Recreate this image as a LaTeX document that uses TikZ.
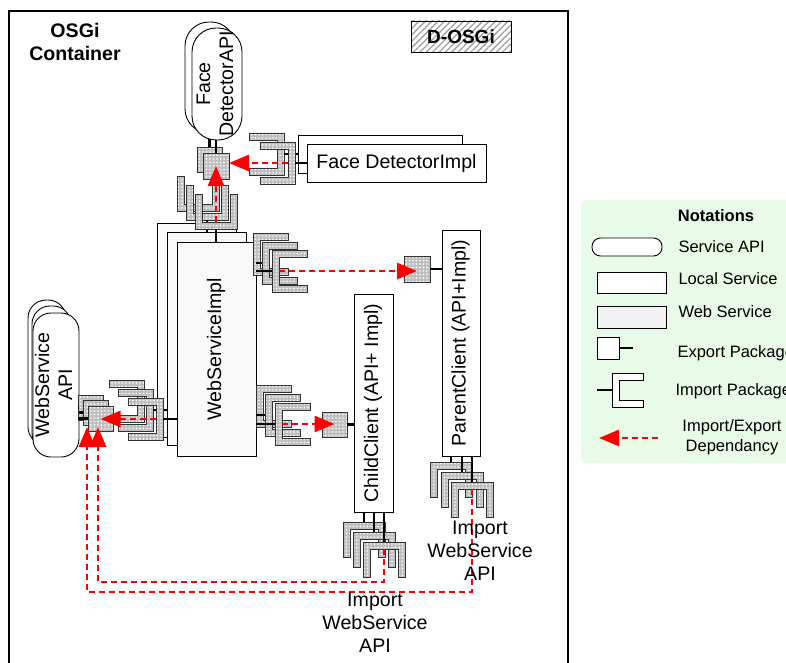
\documentclass[tikz,border=0pt]{standalone}
\usepackage{fontspec}
\setmainfont{Liberation Sans}
\usepackage{graphicx}
\usetikzlibrary{arrows.meta,patterns.meta}

\definecolor{notebg}{RGB}{232,250,232}
\newcommand{\vlab}[1]{\rotatebox{90}{\begin{tabular}{@{}c@{}}#1\end{tabular}}}

\tikzset{
  big/.style={font=\fontsize{19.6}{23}\selectfont},
  bigb/.style={font=\bfseries\fontsize{19.6}{23}\selectfont},
  small/.style={font=\fontsize{16.5}{20}\selectfont},
  smallb/.style={font=\bfseries\fontsize{16.5}{20}\selectfont},
  box/.style={draw, line width=0.9pt, fill=white, inner sep=0pt, outer sep=0pt, big},
  wsbox/.style={box, fill=gray!5},
  api/.style={box, rounded corners=#1},
  webpkg/.style={draw=black!80, line width=0.6pt, preaction={fill=gray!50},
    pattern={Dots[distance=3.5pt,radius=0.9pt]}, pattern color=white},
  sq/.style={webpkg, minimum size=#1, inner sep=0pt, outer sep=0pt},
  stub/.style={line width=2.8pt},
  dep/.style={red, line width=2.8pt, dash pattern=on 6pt off 4pt,
    -{Triangle[length=20pt,width=16pt]}},
  dosgi/.style={draw, line width=0.9pt, minimum width=100pt, minimum height=31pt,
    pattern={Lines[angle=45,distance=4.5pt,line width=1.3pt]}, pattern color=gray!75,
    font=\bfseries\fontsize{19}{22}\selectfont},
  % import packages, placed by their top left corner
  impR/.pic={
    \path[webpkg] (0,0) -- (35,0) -- (35,7) -- (7,7) -- (7,35) -- (35,35) -- (35,42) -- (0,42) -- cycle;
    \coordinate (-bar) at (0,21);
    \coordinate (-in) at (7,21);
  },
  impL/.pic={
    \path[webpkg] (0,0) -- (35,0) -- (35,42) -- (0,42) -- (0,35) -- (28,35) -- (28,7) -- (0,7) -- cycle;
    \coordinate (-bar) at (35,21);
    \coordinate (-in) at (28,21);
  },
  impU/.pic={
    \path[webpkg] (0,0) -- (7,0) -- (7,28) -- (35,28) -- (35,0) -- (42,0) -- (42,35) -- (0,35) -- cycle;
    \coordinate (-bar) at (21,35);
    \coordinate (-in) at (21,28);
  },
  impD/.pic={
    \path[webpkg] (0,0) -- (42,0) -- (42,35) -- (35,35) -- (35,7) -- (7,7) -- (7,35) -- (0,35) -- cycle;
    \coordinate (-bar) at (21,0);
    \coordinate (-in) at (21,7);
  }
}

\begin{document}
\begin{tikzpicture}[x=1pt,y=-1pt]
\useasboundingbox (0,0) rectangle (786,663);

% container
\draw[line width=1.6pt] (9,680) -- (9,11) -- (568,11) -- (568,680);
\node[bigb, align=center] (osgi) at (75,42) {OSGi\\Container};
\node[dosgi] (dosgi) at (461,36.5) {D-OSGi};

% face detector api
\node[sq=25pt] (fsq1) at (209.5,159.5) {};
\node[sq=26pt] (fsq2) at (216,166) {};
\node[api=24pt, minimum width=50pt, minimum height=111pt] (fapib) at (210,77.5) {};
\draw[stub] (fsq1.north) -- (fsq1.north |- fapib.south);
\node[api=24pt, minimum width=50pt, minimum height=112pt] (fapi) at (217,84) {\vlab{Face\\DetectorAPI}};
\draw[stub] (fsq2.north) -- (fsq2.north |- fapi.south);

% face detector impl
\node[box, minimum width=164pt, minimum height=38pt] (fdib) at (380,154) {};
\node[box, minimum width=179pt, minimum height=38pt] (fdi) at (396.5,163) {Face DetectorImpl};
\pic (fi1) at (249,133) {impL};
\draw[stub] (fi1-bar) -- (fi1-bar -| fdib.west);
\pic (fi2) at (260,142) {impL};
\draw[stub] (fi2-bar) -- (fi2-bar -| fdi.west);

% web service impl
\node[wsbox, minimum width=79pt, minimum height=214pt] (wsib1) at (196.5,330) {};
\node[wsbox, minimum width=79pt, minimum height=213pt] (wsib2) at (206.5,338.5) {};
\node[wsbox, minimum width=79pt, minimum height=214pt] (wsi) at (216.5,349) {\vlab{WebServiceImpl}};

\pic (wt1) at (177,176) {impU};
\draw[stub] (wt1-bar) -- (wt1-bar |- wsib1.north);
\pic (wt2) at (186,185) {impU};
\draw[stub] (wt2-bar) -- (wt2-bar |- wsib2.north);
\pic (wt3) at (195,194) {impU};
\draw[stub] (wt3-bar) -- (wt3-bar |- wsi.north);

\pic (wr1) at (253,233) {impR};
\pic (wr2) at (262,242) {impR};
\draw[stub] (wr2-bar) -- (wr2-bar -| wsi.east);
\pic (wr3) at (272,250) {impR};
\draw[stub] (wr3-bar) -- (wr3-bar -| wsi.east);

\pic (wd1) at (256,385) {impR};
\pic (wd2) at (265,394) {impR};
\draw[stub] (wd2-bar) -- (wd2-bar -| wsi.east);
\pic (wd3) at (275,403) {impR};
\draw[stub] (wd3-bar) -- (wd3-bar -| wsi.east);

\pic (wl1) at (109,380) {impL};
\draw[stub] (wl1-bar) -- (wl1-bar -| wsib1.west);
\pic (wl2) at (118,389) {impL};
\draw[stub] (wl2-bar) -- (wl2-bar -| wsib2.west);
\pic (wl3) at (128,398) {impL};
\draw[stub] (wl3-bar) -- (wl3-bar -| wsi.west);

% web service api
\node[api=18pt, minimum width=38pt, minimum height=145pt] (wapib1) at (47,372.5) {};
\node[api=18pt, minimum width=39pt, minimum height=145pt] (wapib2) at (51.5,378.5) {};
\node[api=18pt, minimum width=38pt, minimum height=144pt] (wapi) at (56,385) {\vlab{WebService\\API}};
\node[sq=25pt] (wsq1) at (90.5,407.5) {};
\draw[stub] (wsq1.west) -- (wsq1.west -| wapi.east);
\node[sq=25pt] (wsq2) at (95.5,412.5) {};
\draw[stub] (wsq2.west) -- (wsq2.west -| wapi.east);
\node[sq=25pt] (wsq3) at (100.5,418.5) {};
\draw[stub] (wsq3.west) -- (wsq3.west -| wapi.east);

% parent client
\node[box, minimum width=38pt, minimum height=226pt] (parent) at (461,343) {\vlab{ParentClient (API+Impl)}};
\node[sq=26pt] (psq) at (417,269) {};
\draw[stub] (psq.east) -- (psq.east -| parent.west);
\pic (pb1) at (430,462) {impD};
\draw[stub] (pb1-bar) -- (pb1-bar |- parent.south);
\pic (pb2) at (441,472) {impD};
\draw[stub] (pb2-bar) -- (pb2-bar |- parent.south);
\pic (pb3) at (451,482) {impD};
\draw[stub] (pb3-bar) -- (pb3-bar |- parent.south);

% child client
\node[box, minimum width=39pt, minimum height=218pt] (child) at (373.5,403) {\vlab{ChildClient (API+ Impl)}};
\node[sq=25pt] (csq) at (334.5,424.5) {};
\draw[stub] (csq.east) -- (csq.east -| child.west);
\pic (cb1) at (343,522) {impD};
\draw[stub] (cb1-bar) -- (cb1-bar |- child.south);
\pic (cb2) at (353,532) {impD};
\draw[stub] (cb2-bar) -- (cb2-bar |- child.south);
\pic (cb3) at (363,542) {impD};
\draw[stub] (cb3-bar) -- (cb3-bar |- child.south);

% dependencies
\coordinate (tipA) at (87,427);
\coordinate (tipB) at (98,427);
\draw[dep] (fi2-in) -- (fi2-in -| fsq2.east);
\draw[dep] (wt3-in) -- (wt3-in |- fsq2.center);
\draw[dep] (wr3-in) -- (wr3-in -| psq.center);
\draw[dep] (wd3-in) -- (wd3-in -| csq.center);
\draw[dep] (wl3-in) -- (wl3-in -| wsq3.center);
\draw[dep] (cb3-in) -- ++(0,33) -| (tipB);
\draw[dep] (pb3-in) -- ++(0,103) -| (tipA);

\node[big, align=center] (pimp) at (480,551) {Import\\WebService\\API};
\node[big, align=center] (cimp) at (375,623) {Import\\WebService\\API};

% notations
\node[fill=notebg, rounded corners=6pt, minimum width=230pt, minimum height=263pt, anchor=north west] (legend) at (581,200) {};
\node[smallb] (nota) at (716,216) {Notations};
\node[api=8.5pt, minimum width=70pt, minimum height=18pt] (lapi) at (627,247) {};
\node[small, anchor=west] (lapit) at (675,247) {Service API};
\node[box, minimum width=69pt, minimum height=21pt] (lloc) at (631.5,282.5) {};
\node[small, anchor=west] (lloct) at (675,279) {Local Service};
\node[box, fill=gray!10, minimum width=69pt, minimum height=22pt] (lweb) at (631.5,317) {};
\node[small, anchor=west] (lwebt) at (675,312) {Web Service};
\node[box, minimum size=22pt] (lexp) at (608,348) {};
\coordinate (lexpend) at (633,348);
\draw[stub] (lexp.east) -- (lexpend);
\node[small, anchor=west] (lexpt) at (674,353) {Export Package};
\draw[line width=0.9pt, fill=white] (612,373) -- (643,373) -- (643,380) -- (619,380) -- (619,400) -- (643,400) -- (643,407) -- (612,407) -- cycle;
\coordinate (limp) at (612,390);
\coordinate (limpend) at (597,390);
\draw[stub] (limpend) -- (limp);
\node[small, anchor=west] (limpt) at (672,391) {Import Package};
\coordinate (ldepa) at (658,438);
\coordinate (ldepb) at (599,438);
\draw[dep] (ldepa) -- (ldepb);
\node[small, align=center] (ldept) at (732,437) {Import/Export\\Dependancy};
\end{tikzpicture}
\end{document}
